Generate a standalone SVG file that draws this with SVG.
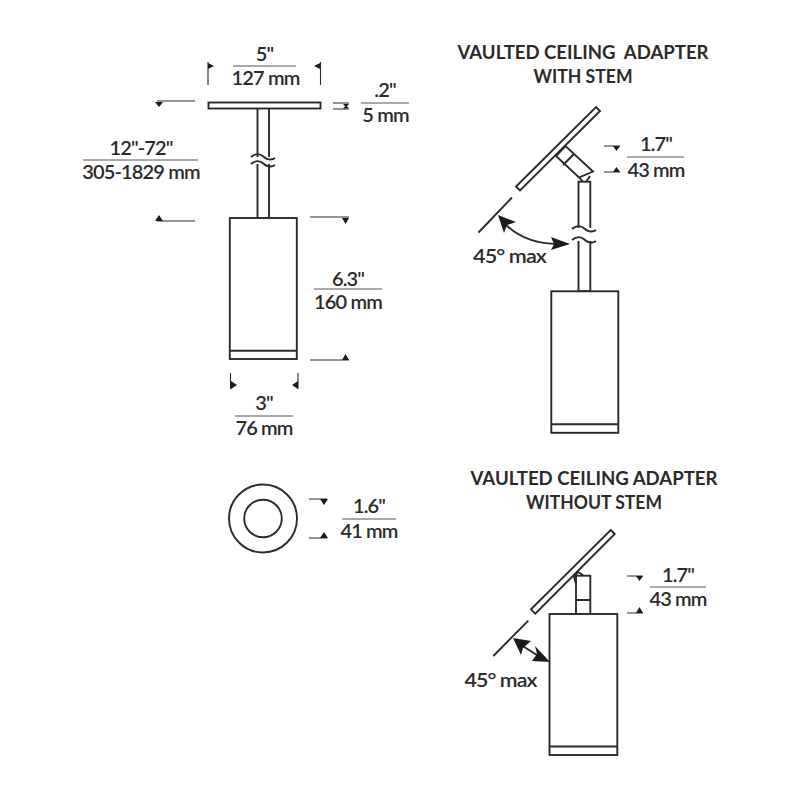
<svg xmlns="http://www.w3.org/2000/svg" width="800" height="800" viewBox="0 0 800 800">
<style>
.s{fill:#fff;stroke:#2b2a29;stroke-width:1.9}
.n{fill:none;stroke:#2b2a29;stroke-width:1.9}
.d{fill:none;stroke:#2b2a29;stroke-width:1.1}
.r{fill:none;stroke:#555;stroke-width:1.1}
.a{fill:#1c1b1a;stroke:none}
.w{fill:#fff;stroke:none}
text{font-family:"Lato","Liberation Sans",sans-serif;font-size:20px;fill:#2b2a29;text-anchor:middle;font-weight:600;letter-spacing:-0.85px}
.t{font-size:19px;font-weight:700;letter-spacing:0}
</style>
<rect width="800" height="800" fill="#fff"/>
<g id="pendant-front">
<rect class="s" x="257.5" y="108" width="11.5" height="110"/>
<path class="w" d="M250 157L276 157L276 164L250 164Z"/>
<path class="n" d="M251 157c6-5 11-2 13 0s7 4 11 1M251 164c6-5 11-2 13 0s7 4 11 1"/>
<rect class="s" x="208.500" y="102.500" width="112" height="6"/>
<rect class="s" x="229.800" y="218" width="67" height="141"/>
<path class="n" d="M229.800 350.800H296.800"/>
</g>
<g id="canopy-plan">
<circle class="n" cx="263" cy="518.500" r="34"/>
<circle class="n" cx="263" cy="518.500" r="18.800"/>
</g>
<g id="adapter-with-stem">
<path class="s" d="M596 107L600 111L520 190.500L516 186.500Z"/>
<path class="s" d="M565.500 146L556 156L579 177.500L593 171.500Z"/>
<path class="n" d="M563 165L574 154M579 177L583 182M590 176L586 182"/>
<rect class="s" x="578.500" y="181.700" width="11.800" height="109.500"/>
<path class="w" d="M572 228L597 228L597 241L572 241Z"/>
<path class="n" d="M572 229c6-5 11-2 13 0s7 4 11 1M572 240c6-5 11-2 13 0s7 4 11 1"/>
<rect class="s" x="551.300" y="291.300" width="67" height="141.500"/>
<path class="n" d="M551.300 424.300H618.300"/>
<path class="n" stroke-width="1.500" d="M512 197.500L478.500 232.500"/>
</g>
<g id="adapter-without-stem">
<path class="s" d="M610.700 530L614.700 534L535.300 613.700L531 609.300Z"/>
<rect class="s" x="576" y="575.700" width="14.300" height="38.300"/>
<path class="n" d="M576 600H590.300M576 584L574 577L578 572L583 575"/>
<rect class="s" x="549.500" y="614" width="67.800" height="141"/>
<path class="n" d="M549.500 746.500H617.300"/>
<path class="n" stroke-width="1.500" d="M528.300 620.700L493.300 656"/>
</g>
<g id="connectors">
<path class="n" d="M503 222C518 238 536 244 558 244"/>
<polygon class="a" points="498,215 516,222 507,225 504,233"/>
<polygon class="a" points="570,244 551,237 554,244 551,250"/>
<path class="n" d="M518 643L540 657"/>
<polygon class="a" points="513,638 531,641 523,648 521,655"/>
<polygon class="a" points="550,662 532,661 537,654 535,646"/>
<path class="d" d="M208 85V62M320.500 85V62M157 101H195M157 221H195M310 217H349M310 360H349M230.500 373V389M298 373V389M333 103H349M333 109H349M309 499H327M309 538H327M604 146H620M604 172H620M627 576H643M627 613H643"/>
<polygon class="a" points="208,63 214,66 208,69"/>
<polygon class="a" points="320,63 314,66 320,69"/>
<polygon class="a" points="155,102 163,102 159,107"/>
<polygon class="a" points="155,221 163,221 159,215"/>
<polygon class="a" points="342,218 349,218 345.500,224"/>
<polygon class="a" points="342,360 349,360 345.500,354"/>
<polygon class="a" points="231,381 237,385 231,389"/>
<polygon class="a" points="298,381 292,385 298,389"/>
<polygon class="a" points="343,104 349,104 346,107"/>
<polygon class="a" points="343,108.500 349,108.500 346,105.500"/>
<polygon class="a" points="320,499 328,499 324,505"/>
<polygon class="a" points="320,538 328,538 324,532"/>
<polygon class="a" points="613,146 620,146 616.500,151"/>
<polygon class="a" points="613,172 620,172 616.500,167"/>
<polygon class="a" points="636,576 643,576 639.500,581"/>
<polygon class="a" points="636,613 643,613 639.500,607"/>
<path class="r" d="M233 66H296M361 103H409M83 160H198M314 289H382M235 416H293M342 519H396M627 157H684M650 587H706"/>
</g>
<g id="labels">
<text x="264.500" y="61">5"</text>
<text x="265.500" y="85">127 mm</text>
<text x="385" y="97">.2"</text>
<text x="385.500" y="122">5 mm</text>
<text x="141" y="155">12"-72"</text>
<text x="141" y="179">305-1829 mm</text>
<text x="348" y="286">6.3"</text>
<text x="348" y="309">160 mm</text>
<text x="264" y="410">3"</text>
<text x="264" y="435">76 mm</text>
<text x="369" y="513">1.6"</text>
<text x="369" y="538">41 mm</text>
<text class="t" x="583" y="59" textLength="251" lengthAdjust="spacingAndGlyphs" xml:space="preserve">VAULTED CEILING  ADAPTER</text>
<text class="t" x="583" y="83" textLength="99" lengthAdjust="spacingAndGlyphs">WITH STEM</text>
<text x="656" y="151">1.7"</text>
<text x="656" y="177">43 mm</text>
<text x="509.500" y="263" textLength="73" lengthAdjust="spacingAndGlyphs">45° max</text>
<text class="t" x="594" y="485" textLength="247" lengthAdjust="spacingAndGlyphs">VAULTED CEILING ADAPTER</text>
<text class="t" x="594" y="509" textLength="136" lengthAdjust="spacingAndGlyphs">WITHOUT STEM</text>
<text x="678" y="582">1.7"</text>
<text x="678" y="606">43 mm</text>
<text x="500.500" y="687" textLength="72" lengthAdjust="spacingAndGlyphs">45° max</text>
</g>
</svg>
